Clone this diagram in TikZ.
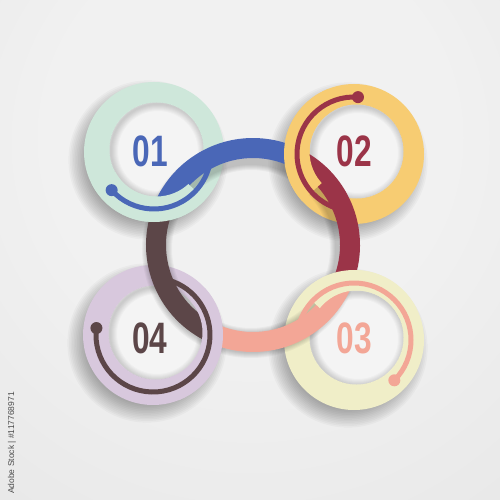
\documentclass[tikz,border=0pt]{standalone}
\usepackage{fontspec}
\setmainfont{Liberation Sans}
\usepackage{graphicx}
\definecolor{bgA}{RGB}{241,241,241}
\definecolor{bgB}{RGB}{216,216,216}
\definecolor{mintc}{RGB}{206,231,218}
\definecolor{goldc}{RGB}{247,204,114}
\definecolor{creamc}{RGB}{240,238,200}
\definecolor{lavc}{RGB}{216,200,221}
\definecolor{bluec}{RGB}{74,103,183}
\definecolor{redc}{RGB}{155,52,72}
\definecolor{salmc}{RGB}{243,166,150}
\definecolor{brownc}{RGB}{92,70,72}
\definecolor{innerc}{RGB}{244,244,244}
\pgfdeclareradialshading{bgshade}{\pgfpoint{0bp}{15bp}}{color(0bp)=(bgA); color(20bp)=(bgA); color(85bp)=(bgB)}

\newcommand\ringshadow[1]{%
  \foreach \k in {0,...,11} \fill[black, opacity=0.028] ([shift={(-6,-8)}]#1) circle (62+1.6*\k);}

\newcommand\ringdisk[3]{%
  \fill[#3] (#1) circle (70);
  \fill[innerc] (#2) circle (47);
  \begin{scope}
    \clip (#2) circle (47);
    \foreach \w in {2,4,...,14} \draw[black, opacity=0.025, line width=\w pt] ([shift={(1.5,-1.5)}]#2) circle (47);
  \end{scope}}

\newcommand\bandshadow[2]{%
  \foreach \w in {20,22,...,30} \draw[black, opacity=0.035, line width=\w pt] ([shift={(cen)}]#1:94) arc[start angle=#1, end angle=#2, radius=94];}

\newcommand\bandseg[3]{%
  \fill[#1] ([shift={(cen)}]#2:107) arc[start angle=#2, end angle=#3, radius=107]
    -- ([shift={(cen)}]#3:87) arc[start angle=#3, end angle=#2, radius=87] -- cycle;}

\newcommand\ringcover[5]{%
  \begin{scope}
    \clip (#1) -- ([shift={(#1)}]#4:100) arc[start angle=#4, end angle=#5, radius=100] -- cycle;
    \fill[#3, even odd rule] (#1) circle (70) (#2) circle (47);
  \end{scope}}

\newcommand\thinarc[4]{%
  \draw[#2, line width=5pt] ([shift={(#1)}]#3:57) arc[start angle=#3, end angle=#4, radius=57];
  \fill[#2] ([shift={(#1)}]#3:57) circle (6);}

\begin{document}
\begin{tikzpicture}[x=1pt,y=1pt,
  numlabel/.style={font=\fontsize{44}{44}\selectfont\bfseries, inner sep=0pt}]
\useasboundingbox (0,0) rectangle (500,-500);
\shade[shading=bgshade] (0,0) rectangle (500,-500);

\coordinate (cen) at (253,-245);
\coordinate (P1) at (154,-152);
\coordinate (P2) at (354,-154);
\coordinate (P3) at (354,-340);
\coordinate (P4) at (153,-335);
\coordinate (I1) at (156.5,-149.5);
\coordinate (I2) at (356.5,-151.5);
\coordinate (I3) at (356.5,-337.5);
\coordinate (I4) at (155.5,-332.5);

\ringshadow{P1}
\ringshadow{P2}
\ringshadow{P3}
\ringshadow{P4}

\ringdisk{P1}{I1}{mintc}
\ringdisk{P2}{I2}{goldc}
\ringdisk{P3}{I3}{creamc}
\ringdisk{P4}{I4}{lavc}

\begin{scope}[shift={(-2,-4)}]
\bandshadow{157.8}{63}
\bandshadow{63}{-22.2}
\bandshadow{-22.2}{-117}
\bandshadow{-117}{-202.2}
\end{scope}

\bandseg{bluec}{157.8}{63}
\bandseg{redc}{63}{-22.2}
\bandseg{salmc}{-22.2}{-117}
\bandseg{brownc}{-117}{-202.2}

\ringcover{P1}{I1}{mintc}{-153}{-43}
\ringcover{P2}{I2}{goldc}{112}{222}
\ringcover{P3}{I3}{creamc}{27}{137}
\ringcover{P4}{I4}{lavc}{-68}{42}

\thinarc{P1}{bluec}{222}{347}
\thinarc{P2}{redc}{86}{252}
\thinarc{P3}{salmc}{-45}{163}
\thinarc{P4}{brownc}{173}{434}

\node[numlabel, text=bluec] (n1) at (150.5,-151) {\scalebox{0.72}[1]{01}};
\node[numlabel, text=redc] (n2) at (354,-151) {\scalebox{0.72}[1]{02}};
\node[numlabel, text=salmc] (n3) at (354,-338) {\scalebox{0.72}[1]{03}};
\node[numlabel, text=brownc] (n4) at (150,-338) {\scalebox{0.72}[1]{04}};

\node[rotate=90, font=\fontsize{8.5}{10}\selectfont, text=black!70, inner sep=0pt] (wm) at (12,-443) {Adobe Stock | \#117768971};
\end{tikzpicture}
\end{document}
